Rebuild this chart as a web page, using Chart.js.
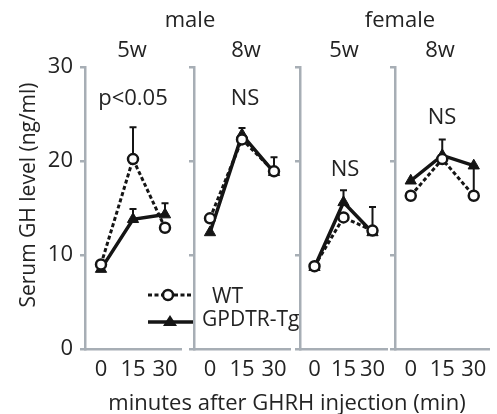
<!DOCTYPE html>
<html><head><meta charset="utf-8">
<script src="https://cdn.jsdelivr.net/npm/chart.js@4.4.0/dist/chart.umd.min.js"></script>
<style>
html,body{margin:0;padding:0;background:#fff;}
#wrap{position:relative;width:497px;height:414px;overflow:hidden;font-family:"Open Sans",sans-serif;color:#232323;}
canvas{position:absolute;left:0;top:0;}
.t{position:absolute;font-size:22px;line-height:22px;white-space:nowrap;transform:translateX(-50%);}
.l{position:absolute;font-size:21px;line-height:22px;white-space:nowrap;}
#ytitle{position:absolute;left:27px;top:195px;font-size:21px;line-height:22px;white-space:nowrap;transform:translate(-50%,-50%) rotate(-90deg);}
svg{position:absolute;left:0;top:0;}
</style></head><body>
<div id="wrap">
<canvas id="c0" width="497" height="414"></canvas>
<canvas id="c1" width="497" height="414"></canvas>
<canvas id="c2" width="497" height="414"></canvas>
<canvas id="c3" width="497" height="414"></canvas>
<div class="t" style="left:190px;top:7px">male</div>
<div class="t" style="left:400px;top:7px">female</div>
<div class="t" style="left:132px;top:37px">5w</div>
<div class="t" style="left:246px;top:37px">8w</div>
<div class="t" style="left:344px;top:37px">5w</div>
<div class="t" style="left:440px;top:37px">8w</div>
<div class="t" style="left:133px;top:85px">p&lt;0.05</div>
<div class="t" style="left:245px;top:85px">NS</div>
<div class="t" style="left:345px;top:156px">NS</div>
<div class="t" style="left:442px;top:104px">NS</div>
<div class="t" style="left:287px;top:390px">minutes after GHRH injection (min)</div>
<div id="ytitle">Serum GH level (ng/ml)</div>
<svg width="497" height="414">
  <line x1="148" y1="295" x2="192" y2="295" stroke="#151515" stroke-width="3" stroke-dasharray="4 2.5"/>
  <circle cx="168" cy="295" r="5" fill="#fff" stroke="#151515" stroke-width="2.5"/>
  <line x1="148" y1="322" x2="193" y2="322" stroke="#151515" stroke-width="3.5"/>
  <polygon points="170,315 177,326 163,326" fill="#151515"/>
</svg>
<div class="l" style="left:212px;top:284px">WT</div>
<div class="l" style="left:202px;top:307px">GPDTR-Tg</div>
</div>
<script>
// ---- data ----
const timeLabels = ['0', '15', '30'];
const yTicks = [0, 10, 20, 30];
// male 5w
const male5wWT = [9.0, 20.2, 12.9];
const male5wTG = [8.5, 13.8, 14.3];
const male5wWTerr = [0, 3.4, 0];
const male5wTGerr = [0, 1.1, 1.2];
// male 8w
const male8wWT = [13.9, 22.3, 18.9];
const male8wTG = [12.4, 22.8, 18.8];
const male8wWTerr = [0, 0, 0];
const male8wTGerr = [0, 0.7, 1.6];
// female 5w
const female5wWT = [8.8, 14.0, 12.6];
const female5wTG = [8.7, 15.6, 12.4];
const female5wWTerr = [0, 0, 2.5];
const female5wTGerr = [0, 1.3, 0];
// female 8w
const female8wWT = [16.3, 20.2, 16.3];
const female8wTG = [17.9, 20.6, 19.5];
const female8wWTerr = [0, 0, 3.2];
const female8wTGerr = [0, 1.7, 0];

const axisColor = '#a7aeb5';
const textColor = '#232323';
const ink = '#151515';
const W = 497, H = 414;

const panels = [
  {id:'c0', wt:male5wWT, tg:male5wTG, wtErr:male5wWTerr, tgErr:male5wTGerr, left:85, right:181, showY:true, yw:60},
  {id:'c1', wt:male8wWT, tg:male8wTG, wtErr:male8wWTerr, tgErr:male8wTGerr, left:194, right:290, showY:false, yw:10},
  {id:'c2', wt:female5wWT, tg:female5wTG, wtErr:female5wWTerr, tgErr:female5wTGerr, left:300, right:387, showY:false, yw:10},
  {id:'c3', wt:female8wWT, tg:female8wTG, wtErr:female8wWTerr, tgErr:female8wTGerr, left:395, right:492, showY:false, yw:10}
];

const errorBarPlugin = {
  id: 'errbars',
  beforeDatasetsDraw(chart) {
    const ctx = chart.ctx, xs = chart.scales.x, ys = chart.scales.y;
    ctx.save();
    ctx.strokeStyle = ink; ctx.lineWidth = 2;
    chart.data.datasets.forEach(ds => {
      ds.errors.forEach((e, i) => {
        if (!e) return;
        const x = xs.getPixelForValue(i);
        const y0 = ys.getPixelForValue(ds.data[i]);
        const y1 = ys.getPixelForValue(ds.data[i] + e);
        ctx.beginPath();
        ctx.moveTo(x, y0); ctx.lineTo(x, y1);
        ctx.moveTo(x - 3.5, y1); ctx.lineTo(x + 3.5, y1);
        ctx.stroke();
      });
    });
    ctx.restore();
  }
};

const font = {family: 'Open Sans', size: 22};

panels.forEach(p => {
  new Chart(document.getElementById(p.id), {
    type: 'line',
    data: {
      labels: timeLabels,
      datasets: [
        {label:'WT', data:p.wt, errors:p.wtErr, borderColor:ink, borderWidth:3, borderDash:[4,2.5],
         pointStyle:'circle', pointRadius:5, pointBackgroundColor:'#fff', pointBorderColor:ink, pointBorderWidth:2.5, tension:0},
        {label:'GPDTR-Tg', data:p.tg, errors:p.tgErr, borderColor:ink, borderWidth:3.5,
         pointStyle:'triangle', pointRadius:6.5, pointBackgroundColor:ink, pointBorderColor:ink, pointBorderWidth:1, tension:0}
      ]
    },
    options: {
      responsive: false, animation: false, devicePixelRatio: 1,
      layout: {padding: {left: p.left - p.yw, right: W - p.right, top: 67, bottom: 25}},
      plugins: {legend: {display: false}, tooltip: {enabled: false}},
      scales: {
        x: {type:'category', offset:true,
            grid:{display:false, drawTicks:false},
            border:{color:axisColor, width:2.5},
            ticks:{color:textColor, font:font, padding:8, maxRotation:0, autoSkip:false},
            afterFit: s => { s.height = 40; }},
        y: {min:0, max:30,
            afterBuildTicks: s => { s.ticks = yTicks.map(v => ({value:v})); },
            ticks:{display:p.showY, color:textColor, font:font, padding:7},
            grid:{drawOnChartArea:false, tickLength:5, color:axisColor, lineWidth:2.5},
            border:{color:axisColor, width:2.5},
            afterFit: (s => { s.width = p.yw; })}
      }
    },
    plugins: [errorBarPlugin]
  });
});
</script>
</body></html>
